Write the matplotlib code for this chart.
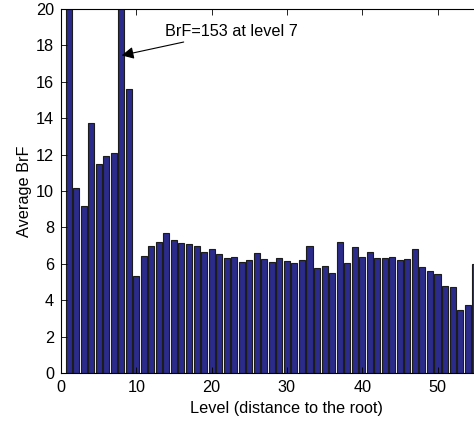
import matplotlib
matplotlib.use("Agg")
import matplotlib.pyplot as plt
import numpy as np

# Average branching factor per tree level (level 1 and 8 run off the top)
levels = np.arange(1, 56)
avg_brf = [
    24.0, 10.15, 9.15, 13.75, 11.5, 11.95, 12.1, 153.0, 15.6, 5.35,
    6.43, 7.0, 7.22, 7.69, 7.29, 7.16, 7.07, 7.0, 6.67, 6.83,
    6.54, 6.34, 6.39, 6.1, 6.21, 6.59, 6.26, 6.08, 6.3, 6.17,
    6.04, 6.23, 6.98, 5.79, 5.9, 5.49, 7.22, 6.02, 6.9, 6.37,
    6.63, 6.3, 6.34, 6.37, 6.23, 6.26, 6.81, 5.8, 5.59, 5.42,
    4.78, 4.71, 3.46, 3.72, 5.97,
]
xticks = [0, 10, 20, 30, 40, 50]
yticks = list(range(0, 21, 2))

plt.rcParams["font.family"] = ["Liberation Sans", "DejaVu Sans"]
plt.rcParams["font.size"] = 11.7

fig = plt.figure(figsize=(4.74, 4.21), dpi=100)
# axes run past the right edge of the figure, as in the cropped original
ax = fig.add_axes([61 / 474, 48 / 421, 60 * 7.53 / 474, 364 / 421])
ax.bar(levels, avg_brf, width=0.8, color="#2b2b8c",
       edgecolor="#1c1c1c", linewidth=0.8)
ax.set_xlim(0, 60)
ax.set_ylim(0, 20)
ax.set_xticks(xticks)
ax.set_yticks(yticks)
ax.tick_params(direction="in", top=True, right=False, length=4, width=0.6)
ax.tick_params(axis="x", pad=5)
ax.tick_params(axis="y", pad=5)
for s in ("left", "bottom", "top"):
    ax.spines[s].set_linewidth(0.8)
ax.spines["right"].set_visible(False)
ax.set_xlabel("Level (distance to the root)", labelpad=4)
ax.set_ylabel("Average BrF", labelpad=3)

ax.annotate("BrF=153 at level 7", xy=(8.05, 17.45), xytext=(13.8, 18.75),
            ha="left", va="center",
            arrowprops=dict(arrowstyle="-|>", color="k", lw=0.8,
                            mutation_scale=18, shrinkA=0, shrinkB=0))

fig.savefig("out.png", dpi=100)
